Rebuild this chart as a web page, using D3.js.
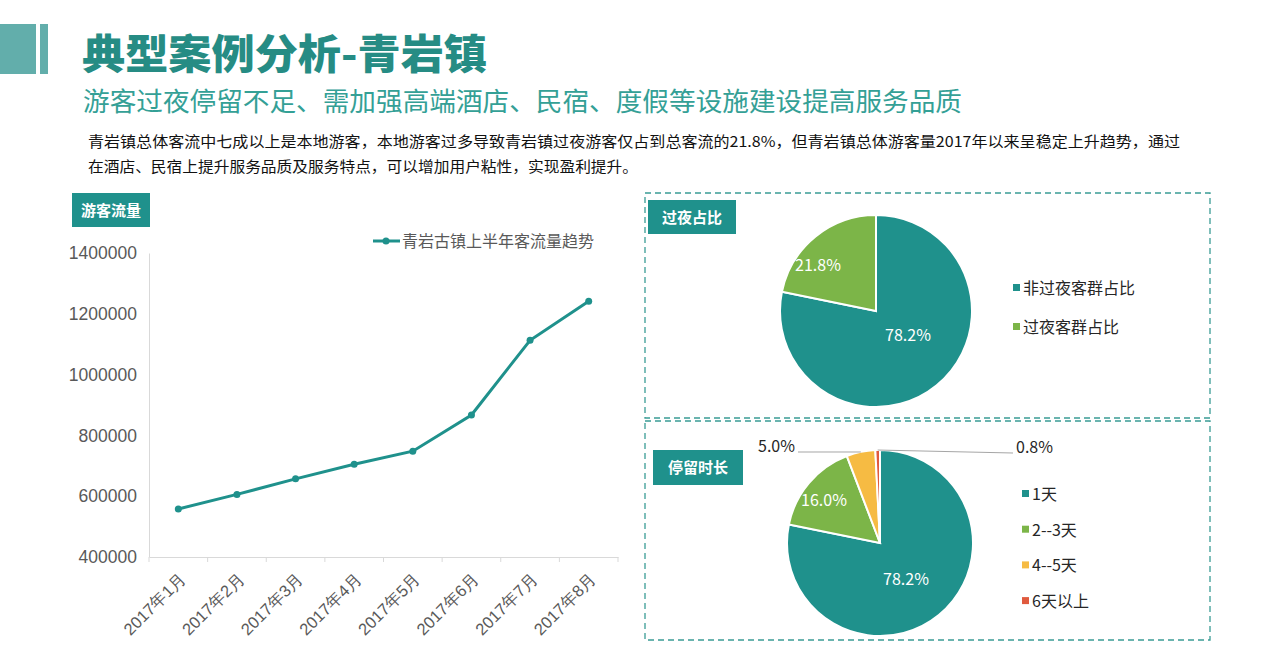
<!DOCTYPE html>
<html><head><meta charset="utf-8">
<script src="https://cdn.jsdelivr.net/npm/d3@7"></script>
<style>
html,body{margin:0;padding:0;background:#fff;}
svg{display:block;font-family:"Noto Sans CJK SC","Microsoft YaHei",sans-serif;}
</style></head>
<body>
<svg id="c" width="1280" height="649"></svg>
<script>
// ---- data ----
const title = "典型案例分析-青岩镇";
const subtitle = "游客过夜停留不足、需加强高端酒店、民宿、度假等设施建设提高服务品质";
const paraLines = [
  "青岩镇总体客流中七成以上是本地游客，本地游客过多导致青岩镇过夜游客仅占到总客流的21.8%，但青岩镇总体游客量2017年以来呈稳定上升趋势，通过",
  "在酒店、民宿上提升服务品质及服务特点，可以增加用户粘性，实现盈利提升。"
];
const months = ["2017年1月","2017年2月","2017年3月","2017年4月","2017年5月","2017年6月","2017年7月","2017年8月"];
const visitors = [558000, 606000, 657000, 705000, 748000, 867000, 1113000, 1241000];
const yTicks = [400000, 600000, 800000, 1000000, 1200000, 1400000];
const lineSeriesName = "青岩古镇上半年客流量趋势";

const overnightLabels = ["非过夜客群占比", "过夜客群占比"];
const overnightValues = [78.2, 21.8];

const stayLabels = ["1天", "2--3天", "4--5天", "6天以上"];
const stayValues = [78.2, 16.0, 5.0, 0.8];

// ---- styles ----
const TEAL = "#1f918c", GREEN = "#7cb548", YELLOW = "#f6bb43", RED = "#e05a3e";
const TITLE_C = "#268c84", SUB_C = "#34a096";

const svg = d3.select("#c");

// header decoration
svg.append("rect").attr("x",0).attr("y",24).attr("width",36).attr("height",50).attr("fill","#62aeab");
svg.append("rect").attr("x",40).attr("y",24).attr("width",8).attr("height",50).attr("fill","#62aeab");

svg.append("text").attr("x",82).attr("y",69).attr("font-size",41).attr("font-weight",900)
  .attr("fill",TITLE_C).attr("textLength",405).attr("lengthAdjust","spacingAndGlyphs").text(title);
svg.append("text").attr("x",83).attr("y",111).attr("font-size",26).attr("fill",SUB_C)
  .attr("textLength",879).attr("lengthAdjust","spacingAndGlyphs").text(subtitle);
svg.selectAll(".para").data(paraLines).enter().append("text")
  .attr("x",88).attr("y",(d,i)=>147+i*25).attr("font-size",15).attr("fill","#111")
  .attr("textLength",(d,i)=> i===0?1092:550).attr("lengthAdjust","spacingAndGlyphs").text(d=>d);

// tag boxes
function tag(x,y,w,h,t){
  svg.append("rect").attr("x",x).attr("y",y).attr("width",w).attr("height",h).attr("fill",TEAL);
  svg.append("text").attr("x",x+w/2).attr("y",y+h/2+5.5).attr("text-anchor","middle")
    .attr("font-size",15).attr("font-weight",700).attr("fill","#fff").text(t);
}
tag(72,193,78,34,"游客流量");

// ---- line chart ----
const x = d3.scaleBand().domain(months).range([149,618]);
const y = d3.scaleLinear().domain([400000,1400000]).range([557,253]);

const yAxis = svg.append("g").attr("transform","translate(149,0)")
  .call(d3.axisLeft(y).tickValues(yTicks).tickSize(0).tickPadding(12).tickFormat(d3.format("d")));
yAxis.select(".domain").attr("stroke","#d9d9d9");
yAxis.selectAll("text").attr("font-size",17.5).attr("fill","#595959").attr("font-family","'Liberation Sans','Noto Sans',sans-serif");

const xAxis = svg.append("g").attr("transform","translate(0,557)")
  .call(d3.axisBottom(x).tickSize(0).tickPadding(8));
xAxis.select(".domain").attr("stroke","#d9d9d9");
xAxis.selectAll(".tick text").attr("font-size",16.5).attr("fill","#595959")
  .attr("text-anchor","end").attr("dy",0)
  .attr("transform","translate(3,17) rotate(-45)");
// tick marks at band edges
svg.selectAll(".xtick").data(months.concat(["end"])).enter().append("line")
  .attr("x1",(d,i)=> 149 + i*x.step()).attr("x2",(d,i)=> 149 + i*x.step())
  .attr("y1",557).attr("y2",562).attr("stroke","#d9d9d9");

const line = d3.line().x((d,i)=>x(months[i])+x.bandwidth()/2).y(d=>y(d));
svg.append("path").datum(visitors).attr("d",line).attr("fill","none")
  .attr("stroke",TEAL).attr("stroke-width",3);
svg.selectAll(".pt").data(visitors).enter().append("circle")
  .attr("cx",(d,i)=>x(months[i])+x.bandwidth()/2).attr("cy",d=>y(d)).attr("r",3.5).attr("fill",TEAL);

// legend
svg.append("line").attr("x1",373).attr("x2",400).attr("y1",241).attr("y2",241).attr("stroke",TEAL).attr("stroke-width",3);
svg.append("circle").attr("cx",386).attr("cy",241).attr("r",3.5).attr("fill",TEAL);
svg.append("text").attr("x",402).attr("y",247).attr("font-size",16).attr("fill","#595959").text(lineSeriesName);

// ---- panels ----
function dashedBox(x0,y0,x1,y1){
  svg.append("rect").attr("x",x0).attr("y",y0).attr("width",x1-x0).attr("height",y1-y0)
    .attr("fill","none").attr("stroke","#3a9c95").attr("stroke-width",1.3).attr("stroke-dasharray","6,4");
}
dashedBox(645,193,1210,418);
dashedBox(645,421,1210,640);
tag(648,200,88,34,"过夜占比");
tag(653,450,90,35,"停留时长");

// ---- pies ----
const pie = d3.pie().sort(null).value(d=>d);

function drawPie(cx,cy,r,values,colors,labels,legendX,legendY0,legendStep){
  const g = svg.append("g").attr("transform",`translate(${cx},${cy})`);
  const arcs = pie(values);
  const arc = d3.arc().innerRadius(0).outerRadius(r);
  g.selectAll("path").data(arcs).enter().append("path").attr("d",arc)
    .attr("fill",(d,i)=>colors[i]).attr("stroke","#fff").attr("stroke-width",2);
  const lg = svg.append("g");
  labels.forEach((t,i)=>{
    lg.append("rect").attr("x",legendX).attr("y",legendY0+i*legendStep-4).attr("width",7).attr("height",7).attr("fill",colors[i]);
    lg.append("text").attr("x",legendX+10).attr("y",legendY0+i*legendStep+6).attr("font-size",16).attr("fill","#262626").text(t);
  });
  return {g,arcs,arc};
}

const p1 = drawPie(876,311,96,overnightValues,[TEAL,GREEN],overnightLabels,1013,288,39);
// inner labels
const p1pos = [[32,24],[-58,-46]];
p1.arcs.forEach((a,i)=>{
  p1.g.append("text").attr("x",p1pos[i][0]).attr("y",p1pos[i][1]+5.5).attr("text-anchor","middle")
    .attr("font-size",16).attr("fill","#fff").text(d3.format(".1f")(a.data)+"%");
});

const p2 = drawPie(880,543,93,stayValues,[TEAL,GREEN,YELLOW,RED],stayLabels,1022,494,35.7);
const p2pos = [[26,36],[-56,-43]];
[0,1].forEach(i=>{
  p2.g.append("text").attr("x",p2pos[i][0]).attr("y",p2pos[i][1]+5.5).attr("text-anchor","middle")
    .attr("font-size",16).attr("fill","#fff").text(d3.format(".1f")(stayValues[i])+"%");
});
// outside labels with leader lines
const outer = d3.arc().innerRadius(93).outerRadius(93);
const out = [{i:2, lx:-82, ly:-91, tx:-85, anchor:"end"},{i:3, lx:133, ly:-90, tx:136, anchor:"start"}];
out.forEach(o=>{
  const c = outer.centroid(p2.arcs[o.i]);
  p2.g.append("line").attr("x1",c[0]).attr("y1",c[1]).attr("x2",o.lx).attr("y2",o.ly)
    .attr("stroke","#a6a6a6").attr("stroke-width",1);
  p2.g.append("text").attr("x",o.tx).attr("y",o.ly-0.5).attr("text-anchor",o.anchor)
    .attr("font-size",16).attr("fill","#262626").text(d3.format(".1f")(stayValues[o.i])+"%");
});
</script>
</body></html>
